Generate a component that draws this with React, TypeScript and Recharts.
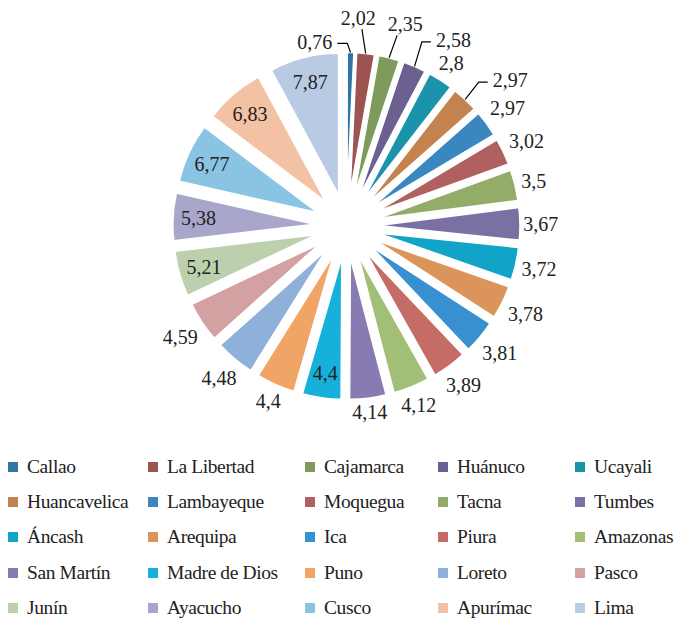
import React from 'react';
import { PieChart, Pie, Cell, Sector, Legend } from 'recharts';

const regions = [
  'Callao', 'La Libertad', 'Cajamarca', 'Huánuco', 'Ucayali',
  'Huancavelica', 'Lambayeque', 'Moquegua', 'Tacna', 'Tumbes',
  'Áncash', 'Arequipa', 'Ica', 'Piura', 'Amazonas',
  'San Martín', 'Madre de Dios', 'Puno', 'Loreto', 'Pasco',
  'Junín', 'Ayacucho', 'Cusco', 'Apurímac', 'Lima',
];
const values = [
  0.76, 2.02, 2.35, 2.58, 2.8,
  2.97, 2.97, 3.02, 3.5, 3.67,
  3.72, 3.78, 3.81, 3.89, 4.12,
  4.14, 4.4, 4.4, 4.48, 4.59,
  5.21, 5.38, 6.77, 6.83, 7.87,
];
const colors = [
  '#2F75A5', '#9D5350', '#7F9B5C', '#6C6090', '#1B93AA',
  '#C4834E', '#3A86BF', '#B0605E', '#93AD68', '#7B70A3',
  '#12A4C6', '#DB955B', '#3990D0', '#C66C67', '#A2BF78',
  '#877BB2', '#16B0DA', '#F0A465', '#8FB1D9', '#D3A1A2',
  '#BDD0AE', '#A9A6CC', '#89C4E3', '#F3C1A3', '#B8CBE3',
];

// label placement options
const insideLabels = ['Madre de Dios', 'Junín', 'Ayacucho', 'Cusco', 'Apurímac', 'Lima'];
const leaderNudges: Record<string, [number, number]> = {
  Callao: [-36, 1],
  'La Libertad': [-9, -22],
  Cajamarca: [12, -17],
  'Huánuco': [31, -8],
  Huancavelica: [28, -1],
};

const data = regions.map((name, i) => ({ name, value: values[i] }));

const FONT = '"Liberation Serif", "DejaVu Serif", serif';
const TEXT = '#222222';
const EXPLODE = 32;
const RAD = Math.PI / 180;
const textWidth = (s: string) => s.split('').reduce((w, c) => w + (c === ',' ? 5 : 10), 0);

function SliceWithLabel(props: any) {
  const { cx, cy, midAngle, outerRadius, startAngle, endAngle, index, name, value } = props;
  const ux = Math.cos(-midAngle * RAD);
  const uy = Math.sin(-midAngle * RAD);
  const ax = cx + EXPLODE * ux;
  const ay = cy + EXPLODE * uy;
  const text = String(value).replace('.', ',');
  const w = textWidth(text);
  let tx: number;
  let ty: number;
  let leader: number[][] | null = null;
  if (insideLabels.includes(name)) {
    tx = ax + outerRadius * 0.82 * ux;
    ty = ay + outerRadius * 0.82 * uy;
  } else {
    const dist = outerRadius - 8 + (w / 2 + 11) * Math.abs(ux) + 18.4 * Math.abs(uy);
    tx = ax + dist * ux;
    ty = ay + dist * uy;
    const nudge = leaderNudges[name];
    if (nudge) {
      tx += nudge[0];
      ty += nudge[1];
      const sx = ax + outerRadius * ux;
      const sy = ay + outerRadius * uy;
      if (nudge[0] > 15) {
        const ex = tx - w / 2 - 5;
        const ey = ty + 2;
        leader = [[sx, sy], [ex - 9, ey], [ex, ey]];
      } else if (nudge[0] < -15) {
        const ex = tx + w / 2 + 5;
        const ey = ty + 1;
        leader = [[sx, sy], [ex + 10, ey], [ex, ey]];
      } else {
        leader = [[sx, sy], [sx + (tx - sx) * 0.5, ty + 11]];
      }
    }
  }
  return (
    <g>
      <Sector
        cx={ax}
        cy={ay}
        innerRadius={0}
        outerRadius={outerRadius}
        startAngle={startAngle}
        endAngle={endAngle}
        fill={colors[index]}
        stroke="#ffffff"
        strokeWidth={1.5}
      />
      {leader && (
        <polyline
          points={leader.map((p) => p.join(',')).join(' ')}
          fill="none"
          stroke="#000000"
          strokeWidth={1.2}
        />
      )}
      <text
        x={tx}
        y={ty}
        textAnchor="middle"
        dominantBaseline="central"
        fontFamily={FONT}
        fontSize={20}
        fill={TEXT}
      >
        {text}
      </text>
    </g>
  );
}

const legendCols = [0, 140, 297, 430, 567];
const legendRows = [19, 54, 89, 125, 160];

function GridLegend() {
  return (
    <div style={{ position: 'relative', width: 675, height: 180 }}>
      {regions.map((name, i) => {
        const col = i % 5;
        const row = Math.floor(i / 5);
        return (
          <div
            key={name}
            style={{
              position: 'absolute',
              left: legendCols[col],
              top: legendRows[row] - 13,
              height: 26,
              display: 'flex',
              alignItems: 'center',
              whiteSpace: 'nowrap',
              fontFamily: FONT,
              fontSize: 19.5,
              letterSpacing: -0.4,
              color: TEXT,
            }}
          >
            <span
              style={{
                display: 'inline-block',
                width: 10,
                height: 10,
                background: colors[i],
                marginRight: 9,
              }}
            />
            {name}
          </div>
        );
      })}
    </div>
  );
}

export default function App() {
  return (
    <PieChart width={675} height={613} margin={{ top: 0, right: 0, bottom: 0, left: 0 }}>
      <Pie
        data={data}
        dataKey="value"
        nameKey="name"
        cx={338.4}
        cy={218}
        innerRadius={0}
        outerRadius={141.6}
        startAngle={90}
        endAngle={-270}
        fillOpacity={0}
        stroke="none"
        label={SliceWithLabel}
        labelLine={false}
        isAnimationActive={false}
      >
        {data.map((d, i) => (
          <Cell key={d.name} fill={colors[i]} />
        ))}
      </Pie>
      <Legend
        content={() => <GridLegend />}
        wrapperStyle={{ position: 'absolute', left: 0, top: 440, width: 675, height: 180 }}
      />
    </PieChart>
  );
}
